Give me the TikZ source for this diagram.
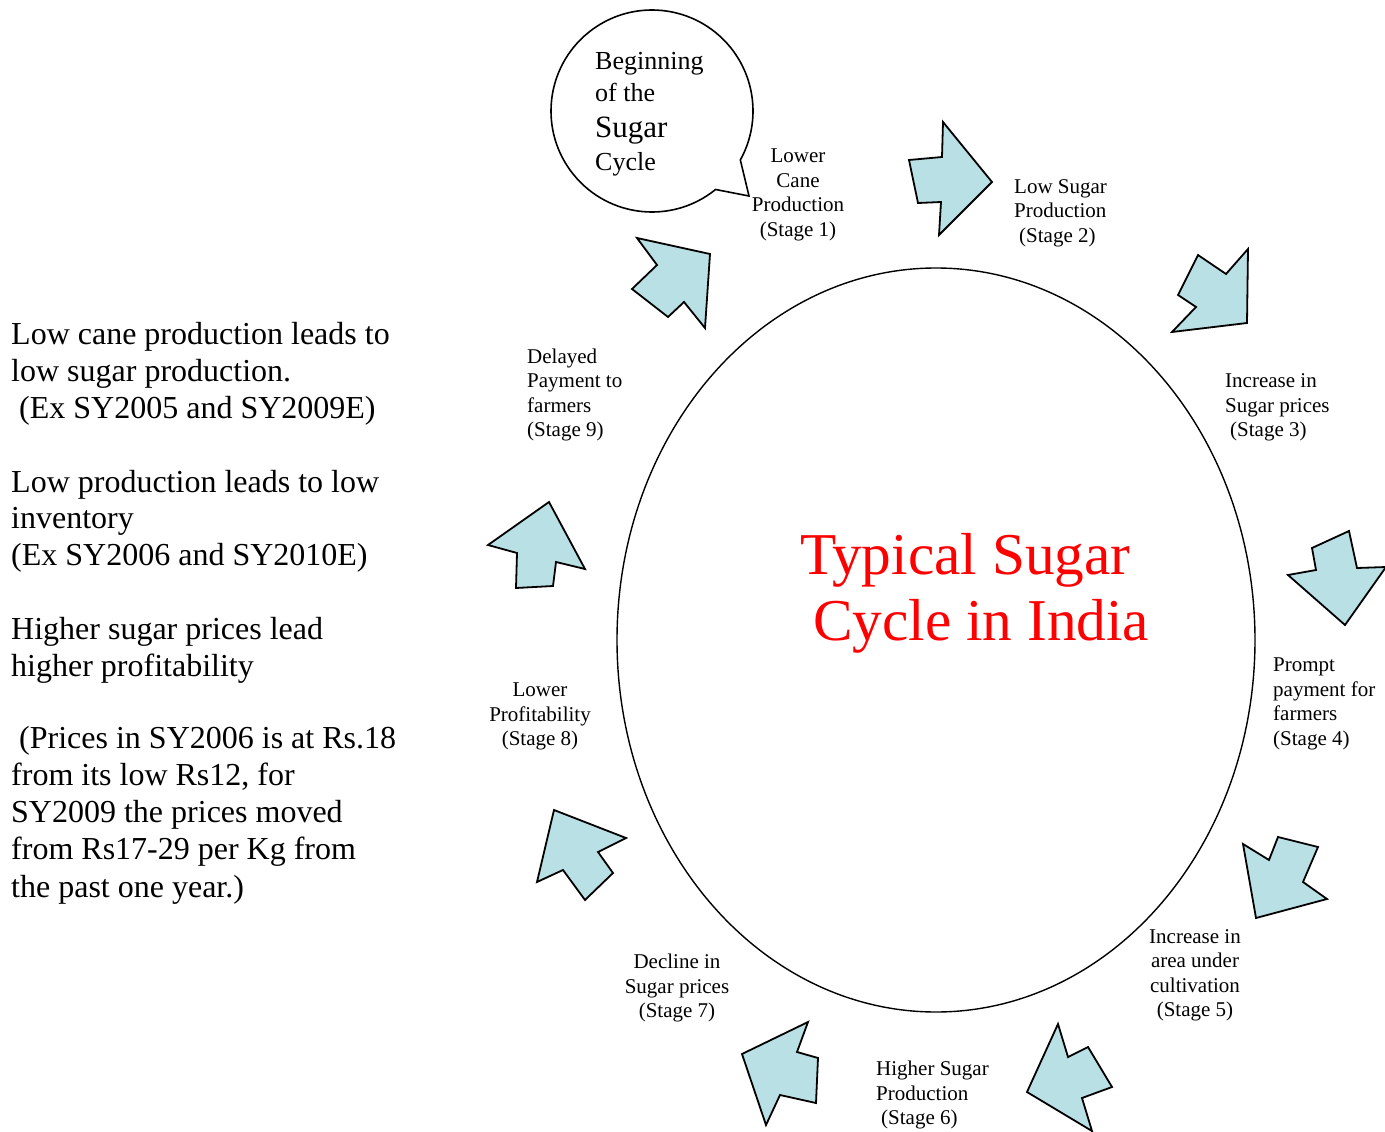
\documentclass[tikz,border=0pt]{standalone}
\usepackage{fontspec}
\setmainfont{Liberation Serif}
\definecolor{arrowfill}{RGB}{185,224,228}
\definecolor{titlered}{RGB}{255,0,0}
\begin{document}
\begin{tikzpicture}[x=1pt,y=-1pt,
  arr/.style={fill=arrowfill,draw=black,line width=1.8pt,line join=miter},
  stage/.style={inner sep=0pt,font=\fontsize{21}{24.5}\selectfont},
  lefttext/.style={inner sep=0pt,anchor=base west,font=\fontsize{32}{37}\selectfont},
  bub/.style={inner sep=0pt,anchor=base west},
  ttl/.style={inner sep=0pt,anchor=base west,text=titlered,font=\fontsize{59.3}{65}\selectfont}]
\useasboundingbox (0,0) rectangle (1385,1132);

% big ellipse
\draw[line width=1.4pt] (936,640) ellipse [x radius=319, y radius=372];

% speech bubble
\draw[line width=1.6pt,fill=white] (652,111) ++(51:101) arc[start angle=51,end angle=389,radius=101] -- (749,196) -- cycle;

% arrows
\draw[arr] (943,122) -- (992,182) -- (939,235) -- (941,202) -- (918,203) -- (909,160) -- (942,157) -- cycle;
\draw[arr] (1248,249) -- (1247,323) -- (1172,332) -- (1196,307) -- (1178,295) -- (1198,255) -- (1226,274) -- cycle;
\draw[arr] (1312,548) -- (1349,531) -- (1357,568) -- (1386,567) -- (1345,625) -- (1288,575) -- (1316,570) -- cycle;
\draw[arr] (1243,844) -- (1269,860) -- (1278,837) -- (1318,847) -- (1303,882) -- (1327,899) -- (1256,918) -- cycle;
\draw[arr] (1058,1024) -- (1068,1057) -- (1088,1047) -- (1112,1087) -- (1082,1098) -- (1092,1131) -- (1027,1092) -- cycle;
\draw[arr] (808,1022) -- (797,1052) -- (818,1058) -- (816,1103) -- (780,1095) -- (766,1125) -- (742,1054) -- cycle;
\draw[arr] (554,810) -- (626,838) -- (598,852) -- (613,873) -- (585,900) -- (563,870) -- (537,882) -- cycle;
\draw[arr] (549,502) -- (585,569) -- (556,562) -- (553,586) -- (516,588) -- (517,553) -- (488,545) -- cycle;
\draw[arr] (637,238) -- (710,254) -- (705,328) -- (684,302) -- (668,317) -- (632,289) -- (657,265) -- cycle;

% bubble text
\node[bub,font=\fontsize{26}{30}\selectfont] (b1) at (595,70) {Beginning};
\node[bub,font=\fontsize{26}{30}\selectfont] (b2) at (595,101) {of the};
\node[bub,font=\fontsize{31}{34}\selectfont] (b3) at (595,137) {Sugar};
\node[bub,font=\fontsize{26}{30}\selectfont] (b4) at (595,170) {Cycle};

% title
\node[ttl] (t1) at (800,574) {Typical Sugar};
\node[ttl] (t2) at (813,640) {Cycle in India};

% stage labels
\node[stage,align=center,anchor=center] (s1) at (798,195) {Lower\\Cane\\Production\\(Stage 1)};
\node[stage,align=left,anchor=west] (s2) at (1014,213) {Low Sugar\\Production\\\hspace*{5pt}(Stage 2)};
\node[stage,align=left,anchor=west] (s3) at (1225,407.5) {Increase in\\Sugar prices\\\hspace*{5pt}(Stage 3)};
\node[stage,align=left,anchor=west] (s4) at (1273,704) {Prompt\\payment for\\farmers\\(Stage 4)};
\node[stage,align=center,anchor=center] (s5) at (1195,975.5) {Increase in\\area under\\cultivation\\(Stage 5)};
\node[stage,align=left,anchor=west] (s6) at (876,1095) {Higher Sugar\\Production\\\hspace*{5pt}(Stage 6)};
\node[stage,align=center,anchor=center] (s7) at (677,988) {Decline in\\Sugar prices\\(Stage 7)};
\node[stage,align=center,anchor=center] (s8) at (540,716.5) {Lower\\Profitability\\(Stage 8)};
\node[stage,align=left,anchor=west] (s9) at (527,395) {Delayed\\Payment to\\farmers\\(Stage 9)};

% left text
\node[lefttext] (l1) at (11,344) {Low cane production leads to};
\node[lefttext] (l2) at (11,381) {low sugar production.};
\node[lefttext] (l3) at (11,418) {\hspace*{8pt}(Ex SY2005 and SY2009E)};
\node[lefttext] (l4) at (11,492) {Low production leads to low};
\node[lefttext] (l5) at (11,528) {inventory};
\node[lefttext] (l6) at (11,565) {(Ex SY2006 and SY2010E)};
\node[lefttext] (l7) at (11,639) {Higher sugar prices lead};
\node[lefttext] (l8) at (11,676) {higher profitability};
\node[lefttext] (l9) at (11,748) {\hspace*{8pt}(Prices in SY2006 is at Rs.18};
\node[lefttext] (l10) at (11,785) {from its low Rs12, for};
\node[lefttext] (l11) at (11,822) {SY2009 the prices moved};
\node[lefttext] (l12) at (11,859) {from Rs17-29 per Kg from};
\node[lefttext] (l13) at (11,897) {the past one year.)};
\end{tikzpicture}
\end{document}
